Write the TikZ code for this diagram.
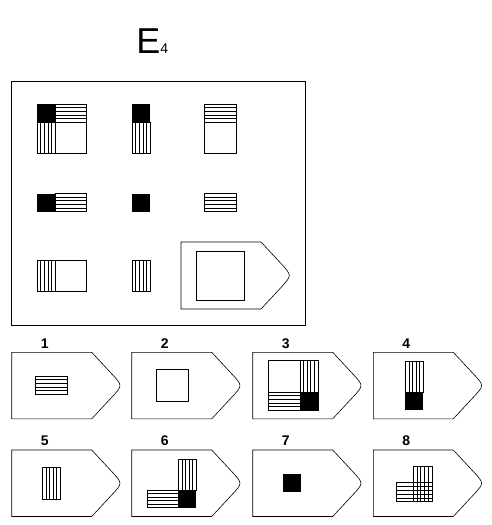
\documentclass[tikz,border=0pt]{standalone}
\usepackage{fontspec}
\setmainfont{Liberation Sans}
\usetikzlibrary{positioning}

% striped cells: x, y (top left), width, height
\newcommand{\hstr}[4]{\draw (#1,#2) rectangle ++(#3,#4);
  \foreach \k in {1,...,4} \draw (#1,#2+\k*#4/5) -- ++(#3,0);}
\newcommand{\vstr}[4]{\draw (#1,#2) rectangle ++(#3,#4);
  \foreach \k in {1,...,4} \draw (#1+\k*#3/5,#2) -- ++(0,#4);}
\newcommand{\blk}[4]{\fill (#1,#2) rectangle ++(#3,#4);}
% answer frame with pointed right side
\newcommand{\pent}[3]{\draw (#1,#2) -- ++(80,0) -- ++(20,21.5) .. controls ++(11,#3/2-21.5) .. ++(0,#3-43) -- ++(-20,21.5) -- ++(-80,0) -- cycle;}

\begin{document}
\begin{tikzpicture}[x=1pt,y=-1pt,line width=0.6pt,
    lbl/.style={font=\fontsize{14}{14}\selectfont\bfseries,inner sep=0pt}]
  \useasboundingbox (0,0) rectangle (492,525);
  \node[anchor=base west,inner sep=0pt] (title) at (136,53.5)
    {\fontsize{36}{36}\selectfont E\fontsize{14}{14}\selectfont 4};

  % matrix
  \draw (11,81) rectangle (305,325);
  \blk{37}{104}{18}{18} \hstr{55}{104}{31}{18} \vstr{37}{122}{18}{31}
  \draw (37,104) rectangle ++(49,49);
  \blk{132}{104}{18}{18} \vstr{132}{122}{18}{31}
  \hstr{204}{104}{32}{18} \draw (204,122) rectangle ++(32,31);
  \blk{37}{193.5}{18}{18} \hstr{55}{193.5}{31}{18}
  \blk{132}{193.5}{18}{18}
  \hstr{204}{193.5}{32}{18}
  \vstr{37}{260}{18}{31.5} \draw (55,260) rectangle ++(31,31.5);
  \vstr{132}{260}{18}{31.5}
  \pent{181}{242}{67}
  \draw (196,251.5) rectangle ++(48.5,48.5);

  % answers
  \foreach \n/\x/\y in {1/11.7/352.3, 2/131.7/352.3, 3/252.7/352.3, 4/373.3/352.3,
                        5/11.7/450, 6/131.7/450, 7/252.7/450, 8/373.3/450} {
    \pent{\x}{\y}{66.5}
    \node[lbl] (l\n) at (\x+33,\y-9) {\n};
  }
  \hstr{35.7}{376}{32}{18}
  \draw (156,369.3) rectangle ++(32,32);
  \draw (268.3,360.7) rectangle ++(49.5,49.5);
  \vstr{300}{360.7}{17.8}{31.3} \hstr{268.3}{392}{31.7}{18.2} \blk{300}{392}{17.8}{18.2}
  \vstr{405.3}{361}{17.5}{31} \blk{405.3}{392}{17.5}{18}
  \vstr{42.3}{467.3}{17.5}{32}
  \vstr{178.3}{459.3}{17.5}{30.7} \hstr{147.3}{490}{31}{17.7} \blk{178.3}{490}{17.5}{17.7}
  \blk{283.3}{474.3}{17.7}{17.7}
  \vstr{413}{466.7}{19}{35} \hstr{396}{482.7}{36}{19}
\end{tikzpicture}
\end{document}
